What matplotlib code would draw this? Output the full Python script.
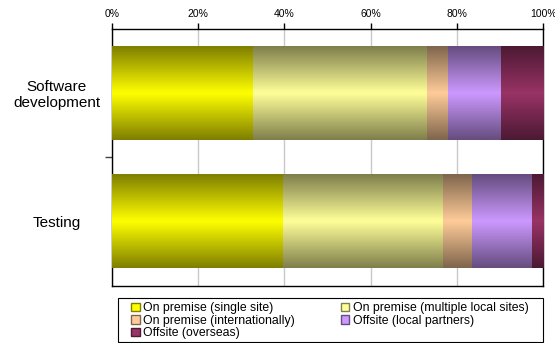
import numpy as np
import matplotlib
matplotlib.use("Agg")
import matplotlib.pyplot as plt
from matplotlib.colors import to_rgb
from matplotlib.patches import Patch, Rectangle

plt.rcParams['font.family'] = ['Liberation Sans', 'DejaVu Sans']

categories = ["Software\ndevelopment", "Testing"]
series = ["On premise (single site)", "On premise (multiple local sites)",
          "On premise (internationally)", "Offsite (local partners)",
          "Offsite (overseas)"]
# share of each sourcing option, in percent, per category
values = {
    "On premise (single site)": [32.7, 39.6],
    "On premise (multiple local sites)": [40.3, 37.1],
    "On premise (internationally)": [4.9, 6.8],
    "Offsite (local partners)": [12.3, 13.9],
    "Offsite (overseas)": [9.8, 2.6],
}
colors = ["#FFFF00", "#FFFF99", "#FFCC99", "#CC99FF", "#993366"]
xticks = [0, 20, 40, 60, 80, 100]


def gradient(color, n=64):
    # dark at top/bottom edge, full colour at the middle (old Excel style)
    t = np.linspace(0, 1, n)
    f = 1 - 0.5 * np.abs(2 * t - 1)
    return np.array(to_rgb(color))[None, :] * f[:, None]


fig = plt.figure(figsize=(5.55, 3.43), dpi=100)
ax = fig.add_axes([0.2018, 0.1676, 0.777, 0.7493])

y = np.arange(len(categories))
left = np.zeros(len(categories))
for name, col in zip(series, colors):
    vals = np.array(values[name])
    bars = ax.barh(y, vals, left=left, height=0.73, color=col, zorder=2)
    grad = gradient(col)[:, None, :]
    for b in bars:
        x0, y0 = b.get_x(), b.get_y()
        ax.imshow(grad, extent=[x0, x0 + b.get_width(), y0 + b.get_height(), y0],
                  aspect='auto', interpolation='bilinear', zorder=3)
    left += vals

ax.set_xlim(0, 100)
ax.set_ylim(1.5, -0.5)

ax.xaxis.tick_top()
ax.set_xticks(xticks)
ax.set_xticklabels([f"{v}%" for v in xticks], fontsize=7.5)
ax.tick_params(axis='x', direction='out', length=4, width=1, pad=2.5, color='black')
ax.grid(axis='x', color='#c8c8c8', linewidth=1, zorder=0)
ax.set_axisbelow(True)

ax.set_yticks([0.5])
ax.set_yticklabels([""])
ax.set_yticks(y, minor=True)
ax.set_yticklabels(categories, minor=True, fontsize=11, ha='center')
ax.tick_params(axis='y', which='major', direction='out', length=5, width=1, color='#444444')
ax.tick_params(axis='y', which='minor', length=0, pad=40)

for s in ax.spines.values():
    s.set_color('black')
    s.set_linewidth(1)

# legend frame drawn separately so the inner padding can differ per side
fig.add_artist(Rectangle((0.2126, 0.003), 0.766, 0.128, transform=fig.transFigure,
                         facecolor='white', edgecolor='black', linewidth=0.8))

order = [0, 2, 4, 1, 3]  # fill legend row by row
handles = [Patch(facecolor=c, edgecolor=tuple(0.5 * np.array(to_rgb(c)))) for c in colors]
leg = fig.legend([handles[i] for i in order], [series[i] for i in order],
                 loc='center left', bbox_to_anchor=(0.236, 0.009, 0.717, 0.111),
                 mode='expand', ncol=2, fontsize=8.8, frameon=False,
                 handlelength=0.7, handleheight=0.7, handletextpad=0.3,
                 labelspacing=0.05, borderpad=0, borderaxespad=0)

plt.savefig("out.png", dpi=100)
